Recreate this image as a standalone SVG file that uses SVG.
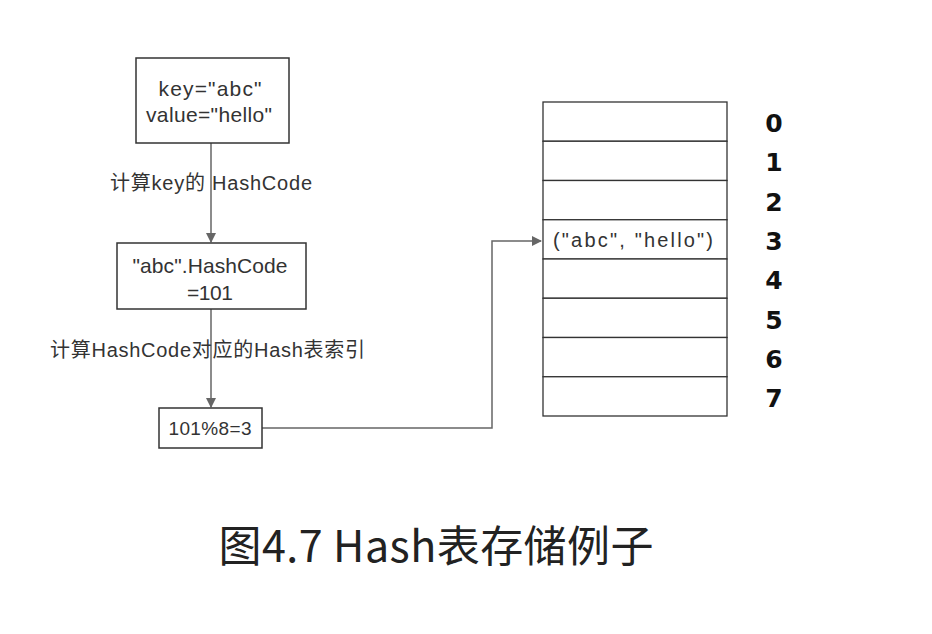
<svg xmlns="http://www.w3.org/2000/svg" width="932" height="634" viewBox="0 0 932 634">
<style>
.box{fill:#fff;stroke:#333;stroke-width:1.5}
.cell{fill:#fff;stroke:#333;stroke-width:1.3}
.conn{fill:none;stroke:#666;stroke-width:1.5}
.t{font-family:"Liberation Sans","Noto Sans CJK SC",sans-serif;font-size:21px;fill:#333;text-anchor:middle}
.lbl{font-family:"Liberation Sans","Noto Sans CJK SC",sans-serif;font-size:20px;fill:#333}
.idx{font-family:"DejaVu Sans",sans-serif;font-size:25px;font-weight:bold;fill:#111;text-anchor:middle}
.title{font-family:"Noto Sans CJK SC",sans-serif;font-size:43px;fill:#222;text-anchor:middle}
</style>
<defs>
<marker id="arr" markerWidth="10" markerHeight="10" refX="9" refY="5" orient="auto" markerUnits="userSpaceOnUse">
<path d="M0,0 L10,5 L0,10 Z" fill="#666"/>
</marker>
</defs>
<rect width="932" height="634" fill="#fff"/>
<g id="connectors">
<line class="conn" x1="211" y1="143" x2="211" y2="242" marker-end="url(#arr)"/>
<line class="conn" x1="211" y1="309" x2="211" y2="407" marker-end="url(#arr)"/>
<polyline class="conn" points="262,428 492,428 492,241 541,241" marker-end="url(#arr)"/>
</g>
<g id="label1"><text class="lbl" x="110" y="190" textLength="202">计算key的 HashCode</text></g>
<g id="label2"><text class="lbl" x="50" y="357" textLength="315">计算HashCode对应的Hash表索引</text></g>
<g id="node-kv">
<rect class="box" x="136" y="58" width="153" height="85"/>
<text class="t" x="210" y="96" textLength="103">key="abc"</text>
<text class="t" x="209" y="122" textLength="126">value="hello"</text>
</g>
<g id="node-hash">
<rect class="box" x="117" y="243" width="189" height="66"/>
<text class="t" x="210" y="273" textLength="155">"abc".HashCode</text>
<text class="t" x="210" y="300" textLength="46">=101</text>
</g>
<g id="node-mod">
<rect class="box" x="159" y="408" width="103" height="40"/>
<text class="t" x="210" y="435" style="font-size:19px" textLength="83">101%8=3</text>
</g>
<g id="table">
<rect class="cell" x="543" y="102" width="184" height="39.25"/>
<rect class="cell" x="543" y="141.25" width="184" height="39.25"/>
<rect class="cell" x="543" y="180.5" width="184" height="39.25"/>
<rect class="cell" x="543" y="219.75" width="184" height="39.25"/>
<rect class="cell" x="543" y="259" width="184" height="39.25"/>
<rect class="cell" x="543" y="298.25" width="184" height="39.25"/>
<rect class="cell" x="543" y="337.5" width="184" height="39.25"/>
<rect class="cell" x="543" y="376.75" width="184" height="39.25"/>
<text class="lbl" x="553" y="247" textLength="160">("abc", "hello")</text>
</g>
<g id="indices">
<text class="idx" x="774" y="132">0</text>
<text class="idx" x="774" y="171">1</text>
<text class="idx" x="774" y="211">2</text>
<text class="idx" x="774" y="250">3</text>
<text class="idx" x="774" y="289">4</text>
<text class="idx" x="774" y="329">5</text>
<text class="idx" x="774" y="368">6</text>
<text class="idx" x="774" y="407">7</text>
</g>
<text class="title" x="436" y="562" textLength="435">图4.7 Hash表存储例子</text>
</svg>
